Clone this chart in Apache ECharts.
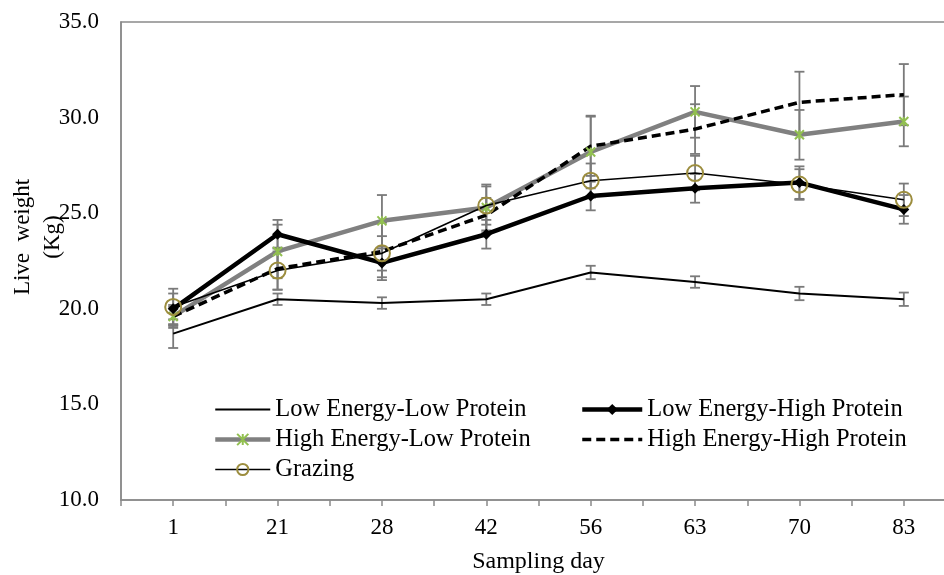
<!DOCTYPE html>
<html>
<head>
<meta charset="utf-8">
<script src="https://cdn.jsdelivr.net/npm/echarts@6/dist/echarts.min.js"></script>
<style>
html,body{margin:0;padding:0;background:#fff;}
#chart{width:944px;height:575px;}
</style>
</head>
<body>
<div id="chart"></div>
<script>
const days = ['1', '21', '28', '42', '56', '63', '70', '83'];
const yTicks = [10, 15, 20, 25, 30, 35];

const leLp = [18.7, 20.5, 20.3, 20.5, 21.9, 21.4, 20.8, 20.5];
const leLpErr = [0.75, 0.3, 0.3, 0.3, 0.35, 0.3, 0.35, 0.35];
const leHp = [20.0, 23.9, 22.4, 23.9, 25.9, 26.3, 26.6, 25.2];
const leHpErr = [0.8, 0.75, 0.75, 0.75, 0.75, 0.75, 0.85, 0.75];
const heLp = [19.6, 23.0, 24.6, 25.3, 28.2, 30.3, 29.1, 29.8];
const heLpErr = [0.5, 1.4, 1.35, 1.2, 1.9, 1.35, 1.3, 1.3];
const heHp = [19.6, 22.1, 23.0, 24.9, 28.5, 29.4, 30.8, 31.2];
const heHpErr = [0.6, 1.1, 1.5, 0.9, 1.55, 1.3, 1.6, 1.6];
const grazing = [20.1, 22.0, 22.9, 25.4, 26.7, 27.1, 26.5, 25.7];
const grazingErr = [0.95, 1.0, 0.9, 1.0, 0.9, 0.9, 0.8, 0.85];

const names = ['Low Energy-Low Protein', 'Low Energy-High Protein', 'High Energy-Low Protein', 'High Energy-High Protein', 'Grazing'];

const FONT = 'Liberation Serif';
const AXIS_COLOR = '#8a8a8a';

function errData(vals, errs) {
  return vals.map((v, i) => [i, v - errs[i], v + errs[i]]);
}
function errSeries(vals, errs) {
  return {
    type: 'custom',
    xAxisIndex: 0,
    yAxisIndex: 0,
    z: 1,
    silent: true,
    data: errData(vals, errs),
    renderItem: function (params, api) {
      const lo = api.coord([api.value(0), api.value(1)]);
      const hi = api.coord([api.value(0), api.value(2)]);
      const w = 5;
      const st = { stroke: '#7a7a7a', lineWidth: 1.8 };
      return {
        type: 'group',
        children: [
          { type: 'line', shape: { x1: lo[0], y1: lo[1], x2: hi[0], y2: hi[1] }, style: st },
          { type: 'line', shape: { x1: lo[0] - w, y1: lo[1], x2: lo[0] + w, y2: lo[1] }, style: st },
          { type: 'line', shape: { x1: hi[0] - w, y1: hi[1], x2: hi[0] + w, y2: hi[1] }, style: st }
        ]
      };
    }
  };
}

const hidden = { color: 'rgba(0,0,0,0)', borderWidth: 0, borderColor: 'rgba(0,0,0,0)' };
const legendText = { fontFamily: FONT, fontSize: 24.5, color: '#000', lineHeight: 21 };

const chart = echarts.init(document.getElementById('chart'), null, { renderer: 'canvas' });

const option = {
  animation: false,
  backgroundColor: '#fff',
  grid: {
    left: 121, top: 22, right: -12, bottom: 75,
    outerBoundsMode: 'none', containLabel: false,
    show: true, borderColor: AXIS_COLOR, borderWidth: 1.5, backgroundColor: 'transparent'
  },
  xAxis: [
    {
      type: 'category', data: days, boundaryGap: true, position: 'bottom',
      name: 'Sampling day', nameLocation: 'middle', nameGap: 50,
      nameTextStyle: { fontFamily: FONT, fontSize: 24, color: '#000' },
      axisLine: { show: true, lineStyle: { color: AXIS_COLOR, width: 1.5 } },
      axisTick: { show: true, alignWithLabel: false, length: 6, lineStyle: { color: AXIS_COLOR, width: 1.5 } },
      axisLabel: { fontFamily: FONT, fontSize: 23, color: '#000', margin: 16 },
      splitLine: { show: false }
    },
    {
      type: 'category', data: days, boundaryGap: true, position: 'bottom',
      axisLine: { show: false },
      axisTick: { show: true, alignWithLabel: true, length: 6, lineStyle: { color: AXIS_COLOR, width: 1.5 } },
      axisLabel: { show: false },
      splitLine: { show: false }
    }
  ],
  yAxis: {
    type: 'value', min: yTicks[0], max: yTicks[yTicks.length - 1], interval: 5,
    axisLine: { show: true, lineStyle: { color: AXIS_COLOR, width: 1.5 } },
    axisTick: { show: false },
    splitLine: { show: false },
    axisLabel: {
      fontFamily: FONT, fontSize: 23, color: '#000', margin: 22,
      formatter: v => v.toFixed(1)
    }
  },
  graphic: [
    {
      type: 'text', x: 38, y: 237, rotation: Math.PI / 2,
      style: {
        text: 'Live  weight\n(Kg)', fontFamily: FONT, fontSize: 23, fill: '#000',
        align: 'center', verticalAlign: 'middle', lineHeight: 30
      }
    }
  ],
  legend: [
    {
      left: 213, top: 397, orient: 'vertical', padding: 0, itemGap: 5,
      itemWidth: 55, itemHeight: 14,
      data: [
        { name: names[0], itemStyle: hidden, lineStyle: { color: '#000', width: 2 } },
        { name: names[2], lineStyle: { color: '#808080', width: 4.5 } },
        { name: names[4], lineStyle: { color: '#000', width: 1.6 } }
      ],
      textStyle: legendText
    },
    {
      left: 580, top: 397, orient: 'vertical', padding: 0, itemGap: 5,
      itemWidth: 60, itemHeight: 14,
      data: [
        { name: names[1], lineStyle: { color: '#000', width: 4.5 } },
        { name: names[3], itemStyle: hidden, lineStyle: { color: '#000', width: 3.5, type: [9, 5] } }
      ],
      textStyle: legendText
    }
  ],
  series: [
    errSeries(leLp, leLpErr),
    errSeries(leHp, leHpErr),
    errSeries(heLp, heLpErr),
    errSeries(heHp, heHpErr),
    errSeries(grazing, grazingErr),
    {
      name: names[0], type: 'line', data: leLp, z: 2,
      symbol: 'none', showSymbol: false,
      lineStyle: { color: '#000', width: 2 }, itemStyle: { color: '#000' }
    },
    {
      name: names[2], type: 'line', data: heLp, z: 3,
      symbol: 'path://M0,0L10,10M10,0L0,10M5,0L5,10', symbolSize: 9,
      lineStyle: { color: '#808080', width: 4.5 },
      itemStyle: { color: '#92C050', borderColor: '#92C050', borderWidth: 2 }
    },
    {
      name: names[3], type: 'line', data: heHp, z: 3,
      symbol: 'none', showSymbol: false,
      lineStyle: { color: '#000', width: 3.5, type: [9, 5] }, itemStyle: { color: '#000' }
    },
    {
      name: names[1], type: 'line', data: leHp, z: 4,
      symbol: 'diamond', symbolSize: 11,
      lineStyle: { color: '#000', width: 4.5 }, itemStyle: { color: '#000' }
    },
    {
      name: names[4], type: 'line', data: grazing, z: 5,
      symbol: 'circle', symbolSize: 16,
      lineStyle: { color: '#000', width: 1.6 },
      itemStyle: { color: 'rgba(255,255,255,0)', borderColor: '#9C8D3E', borderWidth: 2 }
    }
  ]
};
chart.setOption(option);
</script>
</body>
</html>
